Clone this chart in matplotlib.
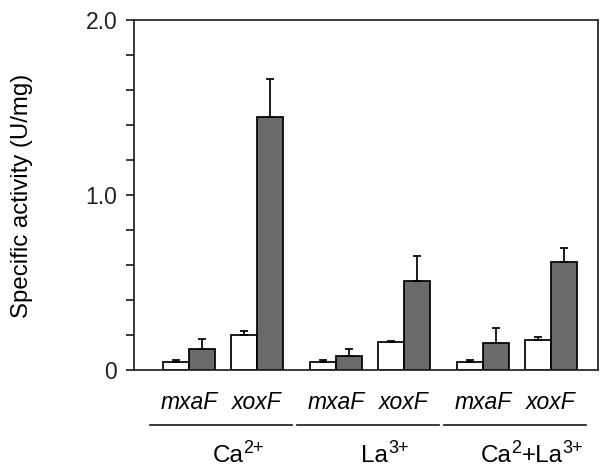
import matplotlib
matplotlib.use("Agg")
import matplotlib.pyplot as plt
import matplotlib.transforms as mtransforms
import numpy as np

plt.rcParams["font.family"] = ["Liberation Sans", "DejaVu Sans"]

# data: white = open bars, gray = filled bars, order per group: mxaF, xoxF
# group labels as (text, superscript?) pieces
groups = [
    [("Ca", False), ("2+", True)],
    [("La", False), ("3+", True)],
    [("Ca", False), ("2", True), ("+La", False), ("3+", True)],
]
genes = ["mxaF", "xoxF"]
white_vals = [0.047, 0.198, 0.047, 0.160, 0.047, 0.171]
white_err = [0.010, 0.027, 0.010, 0.005, 0.010, 0.016]
gray_vals = [0.118, 1.447, 0.080, 0.509, 0.156, 0.619]
gray_err = [0.057, 0.214, 0.042, 0.144, 0.082, 0.081]
yticks = [0, 0.2, 0.4, 0.6, 0.8, 1.0, 1.2, 1.4, 1.6, 1.8, 2.0]
ytick_labels = ["0", "", "", "", "", "1.0", "", "", "", "", "2.0"]

FS = 16.5
GRAY = "#6a6a6a"
LW = 1.25
DARK = "#222222"

fig = plt.figure(figsize=(6.02, 4.67), dpi=100)
ax = fig.add_axes([134 / 602, 97 / 467, 464 / 602, 350 / 467])

# layout in bar-width units
w = 1.0
pair_gap = 2.62
group_gap = 5.65
centers = []
for g in range(len(groups)):
    for j in range(len(genes)):
        centers.append(g * group_gap + j * pair_gap)
centers = np.array(centers)

ekw = dict(ecolor="black", elinewidth=LW, capsize=3.2, capthick=LW)
ax.bar(centers - w / 2, white_vals, w, color="white", edgecolor="black", linewidth=LW,
       yerr=[np.zeros(6), white_err], error_kw=ekw, zorder=2)
ax.bar(centers + w / 2, gray_vals, w, color=GRAY, edgecolor="black", linewidth=LW,
       yerr=[np.zeros(6), gray_err], error_kw=ekw, zorder=2)

ax.set_xlim(-2.115, 15.73)
ax.set_ylim(0, 2.0)
ax.set_yticks(yticks)
ax.set_yticklabels(ytick_labels)
ax.set_xticks([])
ax.tick_params(axis="y", direction="out", length=6, width=LW, pad=6, labelsize=FS,
               colors=DARK)
for s in ax.spines.values():
    s.set_linewidth(LW)
    s.set_color(DARK)

trans = mtransforms.blended_transform_factory(ax.transData, ax.transAxes)
for i, c in enumerate(centers):
    ax.text(c, -0.094, genes[i % 2], transform=trans, ha="center", va="center",
            fontsize=FS, style="italic")

renderer = fig.canvas.get_renderer()
pix = mtransforms.IdentityTransform()
GFS = 17.5
sup_fs = GFS * 0.74
sup_raise = GFS * 0.36 * 100 / 72  # pixels


def rich_text(xc, y_base, pieces):
    # draw pieces left to right, then shift so the whole label is centred on xc
    arts = []
    x = 0.0
    for txt, sup in pieces:
        t = fig.text(x, y_base + (sup_raise if sup else 0), txt, transform=pix,
                     fontsize=sup_fs if sup else GFS, va="baseline", ha="left")
        wpx = t.get_window_extent(renderer).width
        arts.append((t, x))
        x += wpx
    off = xc - x / 2
    for t, x0 in arts:
        t.set_x(x0 + off)


for g, pieces in enumerate(groups):
    gc = g * group_gap + pair_gap / 2
    ax.plot([gc - 2.8, gc + 2.65], [-0.157, -0.157], transform=trans, color=DARK,
            lw=LW, clip_on=False)
    xc = ax.transData.transform((gc, 0))[0] + 15
    rich_text(xc, 467 - 462, pieces)

fig.text(22 / 602, 1 - 196 / 467, "Specific activity (U/mg)", rotation=90,
         ha="center", va="center", fontsize=17.3)

fig.savefig("out.png", dpi=100, facecolor="white")
